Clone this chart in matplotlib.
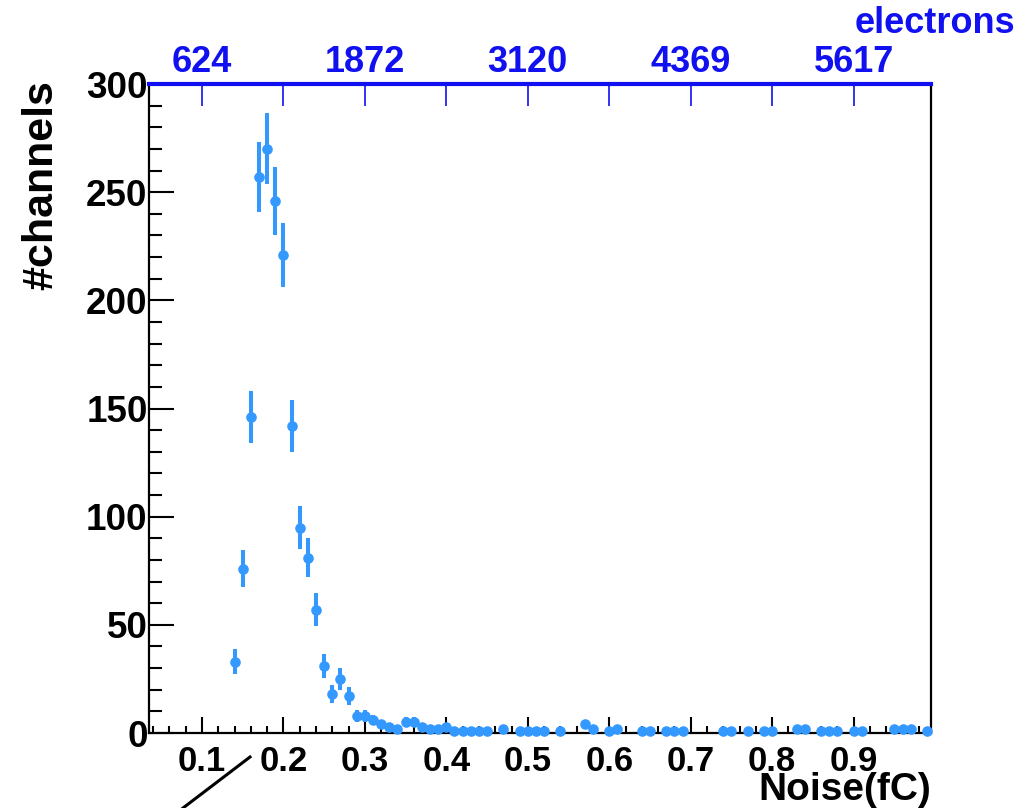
import numpy as np
import matplotlib
matplotlib.use('Agg')
import matplotlib.pyplot as plt
from matplotlib.lines import Line2D
from matplotlib.ticker import MultipleLocator, FormatStrFormatter

# histogram binning (fC), bins of 0.01 centred on 0.14 ... 0.99
bin_first, bin_last, n_bins = 0.14, 0.99, 86

# entries per bin
counts = [33, 76, 146, 257, 270, 246, 221, 142, 95, 81,
          57, 31, 18, 25, 17, 8, 8, 6, 4, 3,
          2, 5, 5, 3, 2, 2, 3, 1, 1, 1,
          1, 1, 0, 2, 0, 1, 1, 1, 1, 0,
          1, 0, 0, 4, 2, 0, 1, 2, 0, 0,
          1, 1, 0, 1, 1, 1, 0, 0, 0, 0,
          1, 1, 0, 1, 0, 1, 1, 0, 0, 2,
          2, 0, 1, 1, 1, 0, 1, 1, 0, 0,
          0, 2, 2, 2, 0, 1]

noise_ticks = [0.1, 0.2, 0.3, 0.4, 0.5, 0.6, 0.7, 0.8, 0.9]
electron_labels = ['624', '', '1872', '', '3120', '', '4369', '', '5617']

pt_col = '#3399ff'
blue = '#1010f0'

plt.rcParams['font.family'] = ['Liberation Sans', 'DejaVu Sans']
plt.rcParams['font.weight'] = 'bold'

centers = np.linspace(bin_first, bin_last, n_bins)
counts = np.array(counts, dtype=float)
keep = counts > 0

fig = plt.figure(figsize=(10.22, 8.08), dpi=100)
ax = fig.add_axes([0.1458, 0.0928, 0.7652, 0.8032])

ax.errorbar(centers[keep], counts[keep], yerr=np.sqrt(counts[keep]),
            fmt='o', ms=6.6, color=pt_col, ecolor=pt_col, elinewidth=2.9,
            capsize=0, clip_on=False, zorder=3)

ax.set_xlim(0.035, 0.995)
ax.set_ylim(0, 300)
ax.xaxis.set_major_locator(MultipleLocator(0.1))
ax.xaxis.set_minor_locator(MultipleLocator(0.02))
ax.xaxis.set_major_formatter(FormatStrFormatter('%.1f'))
ax.yaxis.set_major_locator(MultipleLocator(50))
ax.yaxis.set_minor_locator(MultipleLocator(10))

ax.tick_params(axis='x', which='major', direction='in', length=11.5, width=1.5,
               labelsize=25, pad=8.5, top=False)
ax.tick_params(axis='x', which='minor', direction='in', length=5, width=1.5, top=False)
ax.tick_params(axis='y', which='major', direction='in', length=18, width=1.5,
               labelsize=26.5, pad=1, right=False)
ax.tick_params(axis='y', which='minor', direction='in', length=9, width=1.5, right=False)

for s in ['left', 'right', 'bottom']:
    ax.spines[s].set_linewidth(1.6)
    ax.spines[s].set_color('black')
ax.spines['top'].set_visible(False)

# electrons scale on top
ax2 = ax.twiny()
ax2.set_xlim(ax.get_xlim())
ax2.set_xticks(noise_ticks)
ax2.set_xticklabels(electron_labels)
ax2.tick_params(axis='x', direction='in', length=15.5, width=1.2, colors=blue,
                labelsize=26, pad=3)
for s in ['left', 'right', 'bottom']:
    ax2.spines[s].set_visible(False)
ax2.spines['top'].set_color(blue)
ax2.spines['top'].set_linewidth(3)

fig.text(1015 / 1022, (808 - 33) / 808, 'electrons', ha='right', va='baseline',
         color=blue, fontsize=26, fontweight='bold')

ax.text(-0.138, 1.006, '#channels', rotation=90, ha='center', va='top',
        transform=ax.transAxes, fontsize=31, fontweight='bold')
ax.text(1.0, -0.1032, 'Noise(fC)', ha='right', va='baseline',
        transform=ax.transAxes, fontsize=28, fontweight='bold')

fig.add_artist(Line2D([183 / 1022, 250 / 1022], [0, 51 / 808], color='black',
                      lw=2.2, transform=fig.transFigure))

fig.savefig('out.png', dpi=100)
